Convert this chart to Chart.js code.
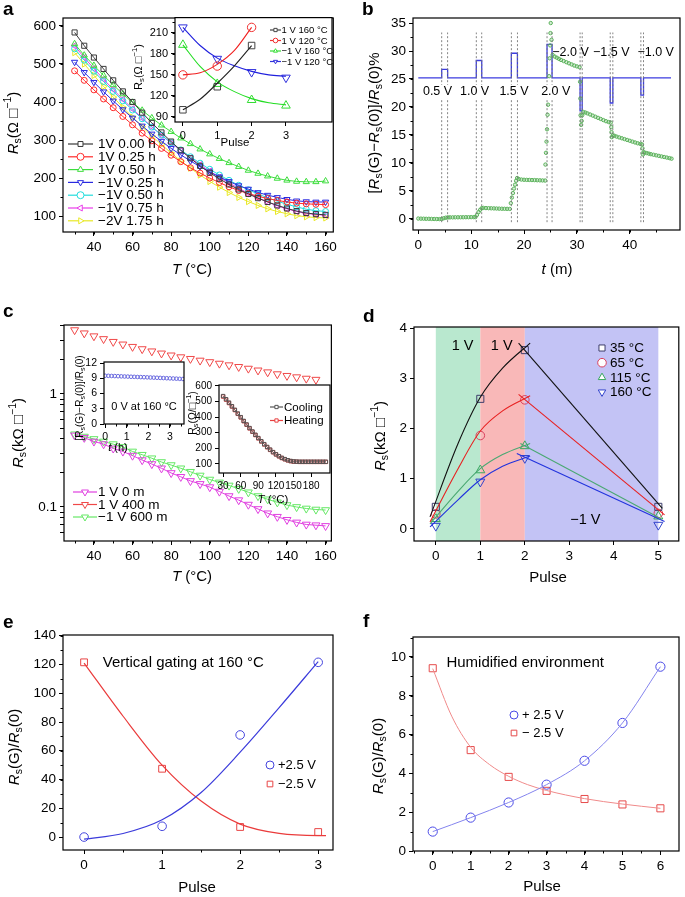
<!DOCTYPE html>
<html>
<head>
<meta charset="utf-8">
<title>Sheet resistance under gating</title>
<script src="https://cdn.jsdelivr.net/npm/chart.js@4.4.1/dist/chart.umd.min.js"></script>
<style>
  body { margin:0; width:685px; height:897px; position:relative; background:#fff; overflow:hidden; }
  canvas { position:absolute; }
  .tag { position:absolute; font:bold 19px "Liberation Sans", Arial, sans-serif; line-height:19px; }
</style>
</head>
<body>
<canvas id="pa" width="340" height="300" style="left:0;top:0"></canvas>
<canvas id="pa2" width="208" height="145" style="left:130px;top:8px"></canvas>
<canvas id="pb" width="345" height="300" style="left:340px;top:0"></canvas>
<canvas id="pc" width="340" height="300" style="left:0;top:300px"></canvas>
<canvas id="pc1" width="125" height="105" style="left:70px;top:350px"></canvas>
<canvas id="pc2" width="150" height="135" style="left:185px;top:375px"></canvas>
<canvas id="pd" width="345" height="300" style="left:340px;top:300px"></canvas>
<canvas id="pe" width="340" height="297" style="left:0;top:600px"></canvas>
<canvas id="pf" width="345" height="297" style="left:340px;top:600px"></canvas>
<div class="tag" style="left:3px;top:-1px">a</div>
<div class="tag" style="left:362px;top:-1px">b</div>
<div class="tag" style="left:3px;top:301px">c</div>
<div class="tag" style="left:363px;top:306px">d</div>
<div class="tag" style="left:3px;top:612px">e</div>
<div class="tag" style="left:363px;top:611px">f</div>
<script>
// ---- panel a: Rs vs T after gating ----
var tempA = [30,35,40,45,50,55,60,65,70,75,80,85,90,95,100,105,110,115,120,125,130,135,140,145,150,155,160];
var aPos000 = [583,548,517,487,457,428,400,372,345,320,296,273,252,232,214,198,183,170,158,147,137,128,120,113,108,105,103];
var aPos025 = [482,457,432,408,385,362,340,318,298,278,260,243,227,213,200,188,177,167,159,152,146,141,137,134,132,131,130];
var aPos050 = [553,523,496,470,445,421,399,378,358,339,322,305,290,276,263,251,240,230,220,212,205,199,194,191,190,190,192];
var aNeg025 = [505,478,452,427,403,380,358,337,316,297,278,261,245,230,216,203,191,180,171,162,155,149,144,140,138,137,137];
var aNeg050 = [540,510,481,454,428,403,379,356,334,313,293,274,256,239,223,208,194,181,169,158,148,139,131,124,118,114,112];
var aNeg075 = [548,517,488,460,433,407,382,358,335,313,292,272,253,235,218,202,187,173,160,148,137,127,119,112,107,104,102];
var aNeg175 = [530,500,470,441,413,386,360,335,311,288,266,245,226,208,191,176,162,149,138,128,119,112,106,101,98,96,95];

// inset a
var insPulse = [0,1,2,3];
var ins160pos = [100,133,192];
var ins120pos = [150,162.6,218];
var ins160neg = [193,137,114,106];
var ins120neg = [218,173,154,146];
var insFitX = [0,0.5,1,1.5,2,2.5,3];
var ins160posFit = [100,115,138,163,192];
var ins120posFit = [150,153,165,185,218];
var ins160negFit = [193,162,140,126,116,110,107];
var ins120negFit = [218,192,174,163,155,150,148];

// ---- panel b: response to gate pulses ----
var bTime = [0,0.5,1,1.5,2,2.5,3,3.5,4,4.4, 4.8,5.2,
  5.6,6,6.5,7,7.5,8,8.5,9,9.5,10,10.5,10.8, 11.1,11.4,11.7,12.0,
  12.3,12.8,13.3,13.8,14.3,14.8,15.3,15.8,16.3,16.8,17.3, 17.5,17.7,17.9,18.1,18.3,18.5,18.7,
  19,19.5,20,20.5,21,21.5,22,22.5,23,23.5,24,
  24.05,24.15,24.25,24.35,24.45,24.55,24.65,24.75,24.85,24.95,25.0,25.05,25.2,
  25.4,25.8,26.2,26.6,27,27.5,28,28.5,29,29.5,30,30.5,
  30.6,30.65,30.7,30.8,30.9,31.0,
  31.2,31.6,32,32.5,33,33.5,34,34.5,35,35.5,36,36.4, 36.5,36.55,36.6,36.8,
  37.1,37.5,38,38.5,39,39.5,40,40.5,41,41.5,42,42.3, 42.4,42.5,42.6,
  42.8,43.2,43.6,44,44.5,45,45.5,46,46.5,47,47.5,47.9];
var bSignal = [0.05,0.03,0.02,0,0,-0.02,-0.03,-0.04,-0.05,-0.05, 0.1,0.2,
  0.25,0.26,0.26,0.27,0.27,0.28,0.28,0.29,0.29,0.3,0.3,0.3, 0.7,1.2,1.6,1.9,
  1.95,1.92,1.9,1.88,1.86,1.84,1.82,1.8,1.79,1.78,1.77, 2.8,3.8,4.6,5.4,6.1,6.8,7.3,
  7.1,7.02,6.98,6.96,6.95,6.93,6.92,6.9,6.88,6.86,6.84,
  9.7,11.8,13.8,16.0,18.6,20.4,22.0,25.5,28.7,31.0,33.2,35.0,32.0,
  29.3,29.0,28.8,28.6,28.4,28.2,28.0,27.8,27.6,27.4,27.25,27.1,
  24.5,21.5,18.5,16.8,17.5,18.5,
  19.1,19.0,18.85,18.65,18.45,18.25,18.05,17.85,17.65,17.45,17.3,17.2, 16.4,15.5,14.6,14.9,
  14.85,14.7,14.55,14.4,14.25,14.1,13.95,13.8,13.65,13.5,13.4,13.3, 12.6,11.5,11.9,
  11.85,11.75,11.65,11.55,11.45,11.35,11.25,11.15,11.05,10.95,10.85,10.75];
var pulseStart = [4.43,10.97,17.6,24.35,30.6,36.3,42.1];
var pulseEnd = [5.55,12.0,18.75,25.3,31.0,36.8,42.6];
var pulseLevel = [26.7,28.3,29.6,31.2,19.3,20.7,22.1];
var gateBase = 25.2, gateEnd = 47.8;
var pulseNames = ['0.5 V','1.0 V','1.5 V','2.0 V','\u22122.0 V','\u22121.5 V','\u22121.0 V'];
var pulseNameX = [3.64,10.65,18.1,26.0,28.8,36.5,44.9];
var pulseNameY = [22.7,22.7,22.7,22.7,29.7,29.7,29.7];

// ---- panel c: log Rs vs T ----
var tempC = tempA;
var cPos0 = [0.43,0.41,0.38,0.36,0.33,0.31,0.285,0.26,0.24,0.22,0.2,0.185,0.17,0.16,0.15,0.137,0.125,0.115,0.105,0.096,0.088,0.082,0.077,0.073,0.07,0.069,0.068];
var cPos400 = [3.68,3.45,3.25,3.07,2.9,2.75,2.62,2.5,2.39,2.29,2.2,2.12,2.05,1.98,1.92,1.86,1.8,1.74,1.68,1.62,1.56,1.5,1.45,1.41,1.37,1.34];
var cNeg600 = [0.44,0.42,0.4,0.38,0.36,0.34,0.31,0.29,0.27,0.25,0.235,0.22,0.205,0.19,0.175,0.165,0.155,0.145,0.135,0.125,0.117,0.11,0.104,0.1,0.097,0.095,0.094];
// inset c1
var c1Time = [0,0.15,0.3,0.45,0.6,0.75,0.9,1.05,1.2,1.35,1.5,1.65,1.8,1.95,2.1,2.25,2.4,2.55,2.7,2.85,3.0,3.15,3.3,3.45,3.6];
var c1Val = [9.5,9.48,9.45,9.43,9.4,9.38,9.35,9.33,9.3,9.28,9.25,9.23,9.2,9.18,9.15,9.12,9.1,9.07,9.04,9.01,8.98,8.95,8.92,8.89,8.86];
// inset c2
var c2Temp = [30,35,40,45,50,55,60,65,70,75,80,85,90,95,100,105,110,115,120,125,130,135,140,145,150,155,160,165,170,175,180,185,190,195,200,205];
var c2Cool = [535,515,493,470,447,423,400,376,353,330,308,287,266,246,227,209,192,176,162,150,139,131,124,119,116,115,114,114,114,114,114,114,114,114,114,114];
var c2Heat = [532,512,490,468,445,421,398,374,351,328,306,285,264,244,225,207,190,175,161,149,138,130,123,118,115,114,113,113,113,113,113,113,113,113,113,113];

// ---- panel d: pulses at several temperatures ----
var dPulse = [0,1,2,5];
var d35 = [0.44,2.59,3.56,0.44];
var d65 = [0.3,1.86,2.57,0.31];
var d115 = [0.2,1.17,1.65,0.25];
var d160 = [0.06,0.94,1.41,0.08];
var dRiseX = [-0.13,0.5,1,1.5,2.12];
var d35Rise = [0.24,1.7,2.62,3.2,3.7];
var d65Rise = [0.14,1.2,1.95,2.35,2.65];
var d115Rise = [0.1,0.75,1.2,1.48,1.7];
var d160Rise = [0.04,0.58,0.98,1.25,1.45];
var dFallX0 = [1.86,1.86,1.9,1.82], dFallY0 = [3.7,2.68,1.7,1.5];
var dFallX1 = [5.09,5.14,5.07,5.14], dFallY1 = [0.41,0.28,0.2,0.15];
var dBandFrom = [0,1,2], dBandTo = [1,2,5];

// ---- panel e: vertical gating ----
var ePulse = [0,1,2,3];
var ePos = [0,7.5,71,121.5];
var eNeg = [121.5,47.5,7,3.5];
var ePosFitX = [0,0.5,1,1.5,2,2.5,3];
var ePosFit = [-1.5,2.5,12,31,59,90,122];
var eNegFitX = [0,0.5,1,1.5,2,2.5,3,3.1];
var eNegFit = [121,84,50,25,9,2.5,1,1];

// ---- panel f: humidified ----
var fPulse = [0,1,2,3,4,5,6];
var fPos = [1,1.72,2.5,3.42,4.65,6.6,9.5];
var fNeg = [9.42,5.2,3.82,3.1,2.68,2.4,2.2];
var fNegFitX = [0,0.5,1,1.5,2,2.5,3,4,5,6];
var fNegFit = [9.4,6.95,5.35,4.45,3.85,3.42,3.12,2.7,2.42,2.2];

var FONT = '"Liberation Sans", Arial, Helvetica, sans-serif';
Chart.defaults.font.family = FONT;
Chart.defaults.color = '#000';

function pts(xv, yv) { return yv.map(function (v, i) { return { x: xv[i], y: v }; }); }
function ser(xv, yv, o) {
  return Object.assign({ data: pts(xv, yv), borderWidth: 1, pointRadius: 0, pointBorderWidth: 1,
    pointBackgroundColor: 'rgba(0,0,0,0)', tension: 0 }, o);
}
function fit(xv, yv, color, w) {
  return ser(xv, yv, { borderColor: color, borderWidth: w || 1.1, cubicInterpolationMode: 'monotone' });
}
function mark(xv, yv, label, color, style, rot, r) {
  return ser(xv, yv, { label: label, inLegend: true, showLine: false, borderColor: color, pointBorderColor: color,
    pointStyle: style, pointRotation: rot || 0, pointRadius: r || 4, pointBorderWidth: 1 });
}

// rich text for axis titles: [text, 'i' | 'sub' | 'sup' | '']
function drawRich(ctx, segs, x, y, size, rot) {
  ctx.save();
  ctx.translate(x, y);
  ctx.rotate(rot || 0);
  var parts = segs.map(function (s) {
    var small = s[1] === 'sub' || s[1] === 'sup';
    var f = (s[1] === 'i' ? 'italic ' : '') + (small ? size * 0.7 : size) + 'px ' + FONT;
    ctx.font = f;
    return { t: s[0], f: f, w: ctx.measureText(s[0]).width,
      dy: s[1] === 'sub' ? size * 0.3 : (s[1] === 'sup' ? -size * 0.38 : 0) };
  });
  var total = parts.reduce(function (a, p) { return a + p.w; }, 0);
  var cx = -total / 2;
  ctx.textBaseline = 'middle';
  ctx.textAlign = 'left';
  ctx.fillStyle = '#000';
  parts.forEach(function (p) { ctx.font = p.f; ctx.fillText(p.t, cx, p.dy); cx += p.w; });
  ctx.restore();
}

var extras = {};
Chart.register({
  id: 'frame',
  beforeDatasetsDraw: function (chart) {
    var e = extras[chart.canvas.id];
    if (!e) return;
    var ctx = chart.ctx, a = chart.chartArea, xs = chart.scales.x;
    ctx.save();
    if (e.white) { ctx.fillStyle = '#fff'; ctx.fillRect(a.left, a.top, a.right - a.left, a.bottom - a.top); }
    if (e.bands) {
      e.bands.from.forEach(function (f, i) {
        var x0 = xs.getPixelForValue(f), x1 = xs.getPixelForValue(e.bands.to[i]);
        ctx.fillStyle = e.bands.colors[i];
        ctx.fillRect(x0, a.top, x1 - x0, a.bottom - a.top);
      });
    }
    ctx.restore();
  },
  afterDatasetsDraw: function (chart) {
    var e = extras[chart.canvas.id];
    if (!e) return;
    var ctx = chart.ctx, xs = chart.scales.x, ys = chart.scales.y;
    ctx.save();
    (e.texts || []).forEach(function (t) {
      var px = xs.getPixelForValue(t.x), py = ys.getPixelForValue(t.y);
      ctx.font = (t.size || 13) + 'px ' + FONT;
      ctx.textAlign = t.align || 'center';
      ctx.textBaseline = 'middle';
      if (t.bg) {
        var w = ctx.measureText(t.t).width;
        ctx.fillStyle = '#fff';
        ctx.fillRect(px - w / 2 - 2, py - 7, w + 4, 14);
      }
      ctx.fillStyle = '#000';
      ctx.fillText(t.t, px, py);
    });
    if (e.legend) {
      var L = e.legend;
      var items = chart.data.datasets.filter(function (d) { return d.inLegend; });
      ctx.font = L.size + 'px ' + FONT;
      ctx.textBaseline = 'middle';
      ctx.textAlign = 'left';
      items.forEach(function (d, i) {
        var y = L.y + i * L.dy;
        ctx.strokeStyle = d.legendLine || d.borderColor;
        ctx.lineWidth = 1.2;
        if (L.line) { ctx.beginPath(); ctx.moveTo(L.x0, y); ctx.lineTo(L.x1, y); ctx.stroke(); }
        ctx.strokeStyle = d.borderColor;
        ctx.fillStyle = '#fff';
        ctx.lineWidth = 1;
        Chart.helpers.drawPoint(ctx, { pointStyle: d.pointStyle, radius: L.r, rotation: d.pointRotation || 0, borderWidth: 1 }, L.xm, y);
        ctx.fillStyle = '#000';
        ctx.fillText(d.label, L.xt, y + 0.5);
      });
    }
    ctx.restore();
  },
  afterDraw: function (chart) {
    var e = extras[chart.canvas.id];
    if (!e) return;
    var ctx = chart.ctx, a = chart.chartArea;
    ctx.save();
    ctx.strokeStyle = '#000';
    ctx.lineWidth = 1;
    // minor ticks
    if (e.minor) {
      ['x', 'y'].forEach(function (k) {
        var st = e.minor[k];
        if (!st) return;
        var sc = chart.scales[k];
        var v0 = Math.ceil(sc.min / st) * st;
        for (var v = v0; v <= sc.max + 1e-9; v += st) {
          var p = Math.round(sc.getPixelForValue(v)) + 0.5;
          ctx.beginPath();
          if (k === 'x') { ctx.moveTo(p, a.bottom); ctx.lineTo(p, a.bottom + 2.5); }
          else { ctx.moveTo(a.left, p); ctx.lineTo(a.left - 2.5, p); }
          ctx.stroke();
        }
      });
    }
    ctx.lineWidth = 1.2;
    ctx.strokeRect(a.left, a.top, a.right - a.left, a.bottom - a.top);
    ctx.restore();
    (e.titles || []).forEach(function (t) { drawRich(ctx, t.segs, t.x, t.y, t.size || 15, t.rot ? -Math.PI / 2 : 0); });
  }
});

function makeScale(s, k, size) {
  return {
    type: s.log ? 'logarithmic' : 'linear',
    min: s.min, max: s.max,
    afterBuildTicks: function (sc) { sc.ticks = s.ticks.map(function (v) { return { value: v }; }); },
    afterFit: function (sc) { if (k === 'x') sc.height = size; else sc.width = size; },
    ticks: {
      font: { size: s.font || 13.5 }, color: '#000', padding: s.pad === undefined ? 3 : s.pad,
      maxRotation: 0, autoSkip: false,
      callback: function (v) { return s.labels ? (s.labels.indexOf(v) >= 0 ? String(v) : '') : String(v); }
    },
    grid: { drawOnChartArea: false, tickLength: s.tl || 4, color: '#000', lineWidth: 1 },
    border: { display: false }
  };
}

function makeChart(id, plot, xs, ys, datasets, extra) {
  var cv = document.getElementById(id);
  extras[id] = extra;
  return new Chart(cv, {
    type: 'line',
    data: { datasets: datasets },
    options: {
      responsive: false, animation: false, events: [],
      layout: { padding: { left: 0, top: plot[1], right: cv.width - plot[2], bottom: 0 } },
      plugins: { legend: { display: false }, tooltip: { enabled: false } },
      scales: { x: makeScale(xs, 'x', cv.height - plot[3]), y: makeScale(ys, 'y', plot[0]) }
    }
  });
}

var RS_OHM = [['R', 'i'], ['s', 'sub'], ['(\u03A9 \u25A1', ''], ['\u22121', 'sup'], [')', '']];

// ---- a ----
makeChart('pa', [63, 18, 334, 232],
  { min: 24, max: 164, ticks: [40, 60, 80, 100, 120, 140, 160] },
  { min: 58, max: 621, ticks: [100, 200, 300, 400, 500, 600] },
  [
    ser(tempA, aPos000, { label: '1V 0.00 h', inLegend: true, borderColor: '#3a3a3a', pointStyle: 'rect', pointRadius: 3.6 }),
    ser(tempA, aPos025, { label: '1V 0.25 h', inLegend: true, borderColor: '#ff2a2a', pointStyle: 'circle', pointRadius: 3 }),
    ser(tempA, aPos050, { label: '1V 0.50 h', inLegend: true, borderColor: '#3ddd3d', pointStyle: 'triangle', pointRadius: 3.6 }),
    ser(tempA, aNeg025, { label: '\u22121V 0.25 h', inLegend: true, borderColor: '#2a2ae0', pointStyle: 'triangle', pointRotation: 180, pointRadius: 3.6 }),
    ser(tempA, aNeg050, { label: '\u22121V 0.50 h', inLegend: true, borderColor: '#22dddd', pointStyle: 'circle', pointRadius: 3 }),
    ser(tempA, aNeg075, { label: '\u22121V 0.75 h', inLegend: true, borderColor: '#ea3cea', pointStyle: 'triangle', pointRotation: -90, pointRadius: 3.6 }),
    ser(tempA, aNeg175, { label: '\u22122V 1.75 h', inLegend: true, borderColor: '#e8e826', pointStyle: 'triangle', pointRotation: 90, pointRadius: 3.6 })
  ],
  {
    minor: { x: 10, y: 50 },
    legend: { x0: 68, x1: 93, xm: 80.5, xt: 98, y: 144, dy: 12.8, r: 3.5, size: 13.5, line: true },
    titles: [
      { segs: [['T', 'i'], [' (\u00B0C)', '']], x: 192, y: 270 },
      { segs: RS_OHM, x: 14, y: 123, rot: true }
    ]
  });

// ---- a inset ----
makeChart('pa2', [45, 9, 205, 114],
  { min: -0.23, max: 4.34, ticks: [0, 1, 2, 3], font: 11 },
  { min: 82.5, max: 232, ticks: [90, 120, 150, 180, 210], font: 11 },
  [
    fit([0, 0.5, 1, 1.5, 2], ins160posFit, '#222'),
    fit([0, 0.5, 1, 1.5, 2], ins120posFit, '#f02020'),
    fit(insFitX, ins160negFit, '#22dd22'),
    fit(insFitX, ins120negFit, '#2020dd'),
    mark([0, 1, 2], ins160pos, '1 V 160 \u00B0C', '#444', 'rect', 0, 4.6),
    mark([0, 1, 2], ins120pos, '1 V 120 \u00B0C', '#f03030', 'circle', 0, 4.2),
    mark(insPulse, ins160neg, '\u22121 V 160 \u00B0C', '#33dd33', 'triangle', 0, 5),
    mark(insPulse, ins120neg, '\u22121 V 120 \u00B0C', '#3030dd', 'triangle', 180, 5)
  ],
  {
    white: true, minor: { y: 15 },
    legend: { x0: 140, x1: 151, xm: 145.5, xt: 151.5, y: 22, dy: 10.5, r: 2.3, size: 9.5, line: true },
    titles: [
      { segs: [['Pulse', '']], x: 105, y: 135, size: 11.5 },
      { segs: [['R', ''], ['s', 'sub'], ['(\u03A9 \u25A1', ''], ['\u22121', 'sup'], [')', '']], x: 9, y: 59, size: 11, rot: true }
    ]
  });

// ---- b ----
var bDatasets = [];
pulseStart.concat(pulseEnd).forEach(function (t) {
  bDatasets.push(ser([t, t], [-0.6, 33.3], { borderColor: '#777', borderWidth: 0.9, borderDash: [2, 2] }));
});
var gateT = [0], gateV = [gateBase];
pulseStart.forEach(function (t, i) {
  gateT.push(t, t, pulseEnd[i], pulseEnd[i]);
  gateV.push(gateBase, pulseLevel[i], pulseLevel[i], gateBase);
});
gateT.push(gateEnd); gateV.push(gateBase);
bDatasets.push(ser(bTime, bSignal, { showLine: false, borderColor: '#5cb25c', pointBorderColor: '#5cb25c',
  pointBackgroundColor: 'rgba(92,178,92,0.25)', pointStyle: 'circle', pointRadius: 1.7, pointBorderWidth: 1 }));
bDatasets.push(ser(gateT, gateV, { borderColor: '#3c3ce0', borderWidth: 1.3 }));
makeChart('pb', [73, 18, 343, 230],
  { min: -1, max: 49.5, ticks: [0, 10, 20, 30, 40] },
  { min: -2, max: 35.9, ticks: [0, 5, 10, 15, 20, 25, 30, 35] },
  bDatasets,
  {
    minor: { x: 5, y: 2.5 },
    texts: pulseNames.map(function (n, i) { return { t: n, x: pulseNameX[i], y: pulseNameY[i], size: 12.5, bg: i < 4 }; }),
    titles: [
      { segs: [['t', 'i'], [' (m)', '']], x: 217, y: 270 },
      { segs: [['[', ''], ['R', 'i'], ['s', 'sub'], ['(G)\u2212', ''], ['R', 'i'], ['s', 'sub'], ['(0)]/', ''], ['R', 'i'], ['s', 'sub'], ['(0)%', '']], x: 35, y: 123, rot: true }
    ]
  });

// ---- c ----
makeChart('pc', [64, 25, 333, 241],
  { min: 24.5, max: 163, ticks: [40, 60, 80, 100, 120, 140, 160] },
  { log: true, min: 0.05, max: 4.08, ticks: [0.06, 0.07, 0.08, 0.09, 0.1, 0.2, 0.3, 0.4, 0.5, 0.6, 0.7, 0.8, 0.9, 1, 2, 3, 4], labels: [0.1, 1] },
  [
    ser(tempC, cPos0, { label: '1 V 0 m', inLegend: true, borderColor: '#e040e0', pointStyle: 'triangle', pointRotation: 180, pointRadius: 4.6 }),
    ser(tempC.slice(0, cPos400.length), cPos400, { label: '1 V 400 m', inLegend: true, showLine: false, legendLine: '#f04848', borderColor: '#f04848', pointStyle: 'triangle', pointRotation: 180, pointRadius: 4.6 }),
    ser(tempC, cNeg600, { label: '\u22121 V 600 m', inLegend: true, borderColor: '#66e866', pointStyle: 'triangle', pointRotation: 180, pointRadius: 4.6 })
  ],
  {
    minor: { x: 10 },
    legend: { x0: 73, x1: 97, xm: 85, xt: 98, y: 192, dy: 12.5, r: 4, size: 13.5, line: true },
    titles: [
      { segs: [['T', 'i'], [' (\u00B0C)', '']], x: 192, y: 277 },
      { segs: [['R', 'i'], ['s', 'sub'], ['(k\u03A9 \u25A1', ''], ['\u22121', 'sup'], [')', '']], x: 19, y: 133, rot: true }
    ]
  });

// ---- c inset 1 ----
makeChart('pc1', [34, 12, 114, 74],
  { min: -0.05, max: 3.65, ticks: [0, 1, 2, 3], font: 10.5 },
  { min: 0, max: 12.2, ticks: [0, 3, 6, 9, 12], font: 10.5 },
  [ ser(c1Time, c1Val, { showLine: false, borderColor: '#6a6ae0', pointBorderColor: '#6a6ae0', pointStyle: 'circle', pointRadius: 1.8 }) ],
  {
    white: true, minor: { x: 0.5 },
    texts: [{ t: '0 V at 160 \u00B0C', x: 1.8, y: 3.4, size: 11 }],
    titles: [
      { segs: [['t', 'i'], [' (h)', '']], x: 48, y: 98, size: 11 },
      { segs: [['[R', ''], ['s', 'sub'], ['(G)\u2212R', ''], ['s', 'sub'], ['(0)]/R', ''], ['s', 'sub'], ['(0)', '']], x: 10, y: 48, size: 10, rot: true }
    ]
  });

// ---- c inset 2 ----
makeChart('pc2', [34, 10, 147, 98],
  { min: 23, max: 212, ticks: [30, 60, 90, 120, 150, 180], font: 10 },
  { min: 42, max: 606, ticks: [100, 200, 300, 400, 500, 600], font: 10 },
  [
    ser(c2Temp, c2Cool, { label: 'Cooling', inLegend: true, borderColor: '#555', pointStyle: 'rect', pointRadius: 2.4, borderWidth: 0.8 }),
    ser(c2Temp, c2Heat, { label: 'Heating', inLegend: true, borderColor: '#e84040', pointStyle: 'rect', pointRadius: 2.4, borderWidth: 0.8 })
  ],
  {
    white: true,
    legend: { x0: 85, x1: 98, xm: 91.5, xt: 99, y: 32, dy: 13.5, r: 2.3, size: 11.5, line: true },
    titles: [
      { segs: [['T', 'i'], [' (\u00B0C)', '']], x: 88, y: 125, size: 11.5 },
      { segs: [['R', ''], ['s', 'sub'], ['(\u03A9/\u25A1', ''], ['\u22121', 'sup'], [')', '']], x: 8, y: 38, size: 10.5, rot: true }
    ]
  });

// ---- d ----
var dColors = ['#3d3d6b', '#d9415f', '#3aa860', '#3344cc'];
var dLines = ['#111111', '#e82020', '#4aa872', '#2233dd'];
var dRise = [d35Rise, d65Rise, d115Rise, d160Rise];
var dDatasets = [];
dRise.forEach(function (r, i) {
  dDatasets.push(fit(dRiseX, r, dLines[i], 1.1));
  dDatasets.push(ser([dFallX0[i], dFallX1[i]], [dFallY0[i], dFallY1[i]], { borderColor: dLines[i], borderWidth: 1.1 }));
});
dDatasets.push(
  mark(dPulse, d35, '35 \u00B0C', dColors[0], 'rect', 0, 5),
  mark(dPulse, d65, '65 \u00B0C', dColors[1], 'circle', 0, 4.3),
  mark(dPulse, d115, '115 \u00B0C', dColors[2], 'triangle', 0, 5.2),
  mark(dPulse, d160, '160 \u00B0C', dColors[3], 'triangle', 180, 5.2)
);
makeChart('pd', [74, 27, 343, 241],
  { min: -0.49, max: 5.46, ticks: [0, 1, 2, 3, 4, 5] },
  { min: -0.24, max: 4.02, ticks: [0, 1, 2, 3, 4] },
  dDatasets,
  {
    bands: { from: dBandFrom, to: dBandTo, colors: ['#b9e8cf', '#f9b8b8', '#c3c3f5'] },
    texts: [
      { t: '1 V', x: 0.6, y: 3.65, size: 14.5 },
      { t: '1 V', x: 1.48, y: 3.65, size: 14.5 },
      { t: '\u22121 V', x: 3.36, y: 0.18, size: 14.5 }
    ],
    legend: { xm: 262, xt: 270, y: 48, dy: 14.7, r: 4.3, size: 13.5, line: false },
    titles: [
      { segs: [['Pulse', '']], x: 208, y: 278 },
      { segs: [['R', 'i'], ['s', 'sub'], ['(k\u03A9 \u25A1', ''], ['\u22121', 'sup'], [')', '']], x: 41, y: 136, rot: true }
    ]
  });

// ---- e ----
var RS_RATIO = [['R', 'i'], ['s', 'sub'], ['(G)/', ''], ['R', 'i'], ['s', 'sub'], ['(0)', '']];
makeChart('pe', [63, 35, 333, 250],
  { min: -0.27, max: 3.19, ticks: [0, 1, 2, 3] },
  { min: -9, max: 140.5, ticks: [0, 20, 40, 60, 80, 100, 120, 140] },
  [
    fit(ePosFitX, ePosFit, '#3b3bdb', 1.2),
    fit(eNegFitX, eNegFit, '#ea3b3b', 1.2),
    mark(ePulse, ePos, '+2.5 V', '#4545dd', 'circle', 0, 4.3),
    mark(ePulse, eNeg, '\u22122.5 V', '#e84545', 'rect', 0, 4.8)
  ],
  {
    minor: { x: 0.5, y: 10 },
    texts: [{ t: 'Vertical gating at 160 \u00B0C', x: 0.24, y: 121, size: 15, align: 'left' }],
    legend: { xm: 270, xt: 278, y: 165, dy: 19, r: 4, size: 13, line: false },
    titles: [
      { segs: [['Pulse', '']], x: 197, y: 288 },
      { segs: RS_RATIO, x: 15, y: 147, rot: true }
    ]
  });

// ---- f ----
makeChart('pf', [73, 37, 343, 251],
  { min: -0.52, max: 6.49, ticks: [0, 1, 2, 3, 4, 5, 6] },
  { min: 0, max: 11.03, ticks: [0, 2, 4, 6, 8, 10] },
  [
    fit(fPulse, fPos, '#8484ee', 1),
    fit(fNegFitX, fNegFit, '#f08a8a', 1),
    mark(fPulse, fPos, '+ 2.5 V', '#4b4be6', 'circle', 0, 4.6),
    mark(fPulse, fNeg, '\u2212 2.5 V', '#e64b4b', 'rect', 0, 5)
  ],
  {
    minor: { x: 0.5, y: 1 },
    texts: [{ t: 'Humidified environment', x: 0.36, y: 9.7, size: 15, align: 'left' }],
    legend: { xm: 174, xt: 182, y: 115, dy: 18, r: 4, size: 13, line: false },
    titles: [
      { segs: [['Pulse', '']], x: 202, y: 287 },
      { segs: RS_RATIO, x: 39, y: 156, rot: true }
    ]
  });
</script>
</body>
</html>
